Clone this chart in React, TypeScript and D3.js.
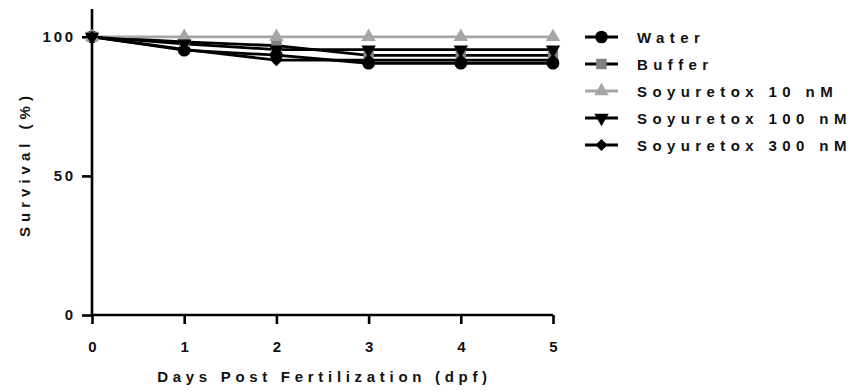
import React, { useRef, useEffect } from "react";
import {
  select,
  scaleLinear,
  line,
  axisBottom,
  axisLeft,
  symbol,
  symbolCircle,
  symbolSquare,
  symbolTriangle,
} from "d3";

const days = [0, 1, 2, 3, 4, 5];
const water = [100, 95.2, 93.4, 90.5, 90.5, 90.5];
const buffer = [100, 98.2, 96.8, 93.3, 93.3, 93.3];
const soy10 = [100, 100, 100, 100, 100, 100];
const soy100 = [100, 97.5, 95.4, 95.4, 95.4, 95.4];
const soy300 = [100, 95.5, 91.6, 91.6, 91.6, 91.6];
const yTicks = [0, 50, 100];
const seriesNames = [
  "Water",
  "Buffer",
  "Soyuretox 10 nM",
  "Soyuretox 100 nM",
  "Soyuretox 300 nM",
];

const FONT = "'Liberation Sans', Arial, sans-serif";

export default function App() {
  const svgRef = useRef<SVGSVGElement>(null);

  useEffect(() => {
    const svg = select(svgRef.current);
    svg.selectAll("*").remove();

    const xScale = scaleLinear().domain([0, 5]).range([92, 553]);
    const yScale = scaleLinear().domain([0, 110]).range([315, 9]);

    const series = [
      { name: seriesNames[0], values: water, line: "#000", fill: "#000", shape: symbolCircle, size: 125, rot: 0 },
      { name: seriesNames[1], values: buffer, line: "#000", fill: "#808080", shape: symbolSquare, size: 110, rot: 0 },
      { name: seriesNames[2], values: soy10, line: "#a6a6a6", fill: "#a6a6a6", shape: symbolTriangle, size: 90, rot: 0 },
      { name: seriesNames[3], values: soy100, line: "#000", fill: "#000", shape: symbolTriangle, size: 90, rot: 180 },
      { name: seriesNames[4], values: soy300, line: "#000", fill: "#000", shape: symbolSquare, size: 72, rot: 45 },
    ];

    // axes
    const xAxis = svg
      .append("g")
      .attr("transform", "translate(0,315)")
      .call(axisBottom(xScale).tickValues(days).tickSize(9).tickPadding(17).tickFormat((d) => String(d)));
    const yAxis = svg
      .append("g")
      .attr("transform", "translate(92,0)")
      .call(axisLeft(yScale).tickValues(yTicks).tickSize(10).tickPadding(6));

    [xAxis, yAxis].forEach((ax) => {
      ax.select(".domain").attr("stroke", "#000").attr("stroke-width", 2.6);
      ax.selectAll(".tick line").attr("stroke", "#000").attr("stroke-width", 2.6);
      ax.selectAll(".tick text")
        .attr("fill", "#111")
        .style("font-family", FONT)
        .style("font-weight", "bold")
        .style("font-size", "15px");
    });
    yAxis.selectAll(".tick text").style("letter-spacing", "2.8px");
    xAxis.selectAll(".tick text").attr("dx", "0");
    yAxis.select(".domain").attr("d", `M0,${yScale(110)}V${yScale(0) + 1}`);
    xAxis.select(".domain").attr("d", `M${xScale(0) - 1},0H${xScale(5)}`);

    // axis titles
    svg
      .append("text")
      .attr("x", (xScale(0) + xScale(5)) / 2 + 2)
      .attr("y", 382)
      .attr("text-anchor", "middle")
      .style("font-family", FONT)
      .style("font-weight", "bold")
      .style("font-size", "15px")
      .style("letter-spacing", "4.7px")
      .attr("fill", "#111")
      .text("Days Post Fertilization (dpf)");
    svg
      .append("text")
      .attr("transform", `translate(30,${164}) rotate(-90)`)
      .attr("text-anchor", "middle")
      .style("font-family", FONT)
      .style("font-weight", "bold")
      .style("font-size", "15px")
      .style("letter-spacing", "5px")
      .attr("fill", "#111")
      .text("Survival (%)");

    const lineGen = line<number>()
      .x((d, i) => xScale(days[i]))
      .y((d) => yScale(d));

    const plot = svg.append("g");
    series.forEach((s) => {
      plot
        .append("path")
        .datum(s.values)
        .attr("fill", "none")
        .attr("stroke", s.line)
        .attr("stroke-width", 2.8)
        .attr("d", lineGen);
    });
    series.forEach((s) => {
      plot
        .selectAll(null)
        .data(s.values)
        .join("path")
        .attr("d", symbol(s.shape, s.size)())
        .attr("fill", s.fill)
        .attr("transform", (d, i) => `translate(${xScale(days[i])},${yScale(d)}) rotate(${s.rot})`);
    });

    // legend
    const legend = svg.append("g").attr("transform", "translate(585,37)");
    series.forEach((s, i) => {
      const row = legend.append("g").attr("transform", `translate(0,${i * 27})`);
      row
        .append("line")
        .attr("x1", 0)
        .attr("x2", 33)
        .attr("stroke", s.line)
        .attr("stroke-width", 2.8);
      row
        .append("path")
        .attr("d", symbol(s.shape, s.size)())
        .attr("fill", s.fill)
        .attr("transform", `translate(16.5,0) rotate(${s.rot})`);
      row
        .append("text")
        .attr("x", 52)
        .attr("y", 5.5)
        .style("font-family", FONT)
        .style("font-weight", "bold")
        .style("font-size", "15px")
        .style("letter-spacing", "5.4px")
        .attr("fill", "#111")
        .text(s.name);
    });
  }, []);

  return (
    <div style={{ position: "absolute", left: 0, top: 0 }}>
      <svg ref={svgRef} width={851} height={392}></svg>
    </div>
  );
}
